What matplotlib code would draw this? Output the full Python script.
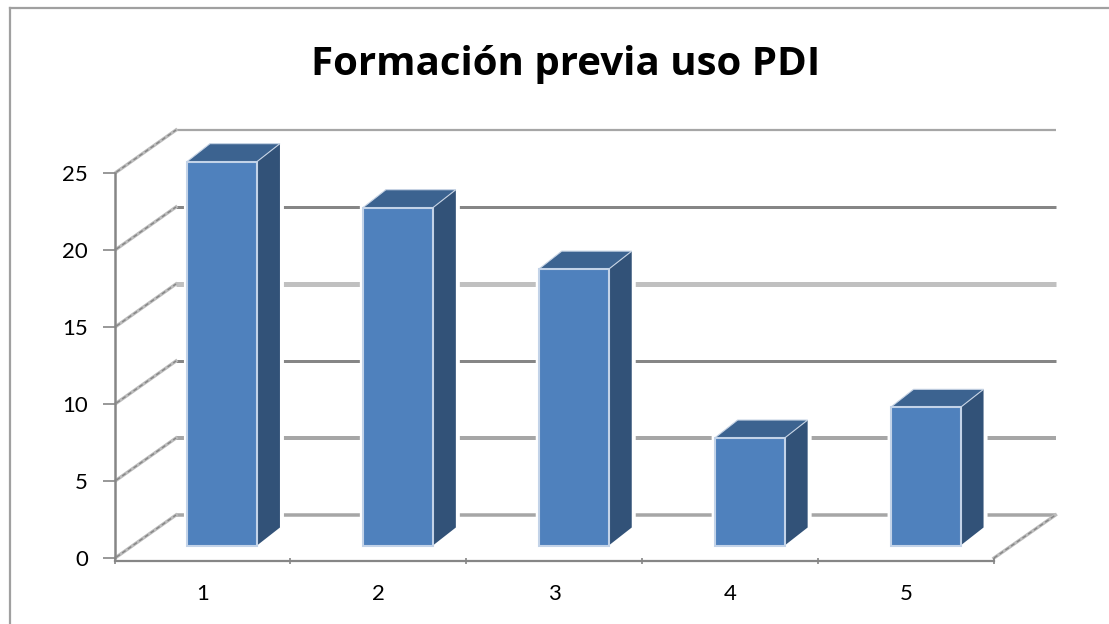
import matplotlib
matplotlib.use("Agg")
import matplotlib.pyplot as plt
from matplotlib.patches import Polygon

plt.rcParams["font.family"] = ["Lato", "DejaVu Sans"]

categories = [1, 2, 3, 4, 5]
values = [25, 22, 18, 7, 9]
y_ticks = [0, 5, 10, 15, 20, 25]
grid_colors = ["#a6a6a6", "#a6a6a6", "#868686", "#c0c0c0", "#868686", "#a6a6a6"]
grid_widths = [3.5, 4.0, 3.0, 5.0, 3.0, 2.2]

W, H = 1109, 624

fig = plt.figure(figsize=(W / 100, H / 100), dpi=100, facecolor="white")
# front plane of the fake 3D box, in pixels
left, right, y0, y25 = 114.5, 994, 558, 173
ax = fig.add_axes([left / W, 1 - y0 / H, (right - left) / W, (y0 - y25) / H])
ax.set_xlim(0.5, 5.5)
ax.set_ylim(0, 25)
ax.patch.set_alpha(0)

px_x = 5 / (right - left)
px_y = 25 / (y0 - y25)


def pt(x, y, dx=0, dy=0):
    # data point shifted by some pixels (dy up)
    return (x + dx * px_x, y + dy * px_y)


def slant(s, a):
    ax.plot([s[0], a[0]], [s[1], a[1]], color="#bcbcbc", lw=2.4, clip_on=False, zorder=1)
    ax.plot([s[0], a[0]], [s[1], a[1]], color="#868686", lw=1.0, clip_on=False,
            ls=(0, (3, 2)), zorder=1)


back_dx, back_dy = 61.5, 43

# gridlines on back wall and the slanted ones on the side wall
for t, c, w in zip(y_ticks, grid_colors, grid_widths):
    a = pt(0.5, t, back_dx, back_dy)
    b = pt(5.5, t, back_dx, back_dy)
    ax.plot([a[0], b[0]], [a[1], b[1]], color=c, lw=w * 0.72, clip_on=False,
            solid_capstyle="butt", zorder=1)
    slant(pt(0.5, t, 2, 1), a)

# floor edge on the right
slant(pt(5.5, 0), pt(5.5, 0, back_dx, back_dy))

# bars: front, top and side faces
bar_w = 70 * px_x
for c, v in zip(categories, values):
    h = v * 0.997
    x1 = c - bar_w / 2
    x2 = c + bar_w / 2
    off_x, off_y = 19.5, 12.5
    d_x, d_y = 23, 18
    bl = pt(x1, 0, off_x, off_y)
    br = pt(x2, 0, off_x, off_y)
    tl = pt(x1, h, off_x, off_y)
    tr = pt(x2, h, off_x, off_y)
    side = [br, tr, pt(x2, h, off_x + d_x, off_y + d_y), pt(x2, 0, off_x + d_x, off_y + d_y)]
    top = [tl, tr, pt(x2, h, off_x + d_x, off_y + d_y), pt(x1, h, off_x + d_x, off_y + d_y)]
    # white halo round the box, it hides the gridlines next to the bar
    halo = [pt(x1, 0, off_x - 3, off_y - 1), pt(x1, h, off_x - 3, off_y + 2),
            pt(x1, h, off_x + d_x, off_y + d_y + 3), pt(x2, h, off_x + d_x + 4, off_y + d_y + 3),
            pt(x2, 0, off_x + d_x + 4, off_y + d_y - 3), pt(x2, 0, off_x + 3, off_y - 1)]
    ax.add_patch(Polygon(halo, closed=True, fc="white", ec="none", zorder=2, clip_on=False))
    ax.add_patch(Polygon(side, closed=True, fc="#325278", ec="none", zorder=3, clip_on=False))
    ax.add_patch(Polygon(top, closed=True, fc="#3c6390", ec="#c6d3e4", lw=0.8, zorder=3,
                         clip_on=False))
    ax.add_patch(Polygon([bl, tl, tr, br], closed=True, fc="#4f81bd", ec="#c3d3e8", lw=1.5,
                         zorder=4, clip_on=False, joinstyle="miter"))

# axes lines
for sp in ["top", "right"]:
    ax.spines[sp].set_visible(False)
ax.spines["left"].set_color("#868686")
ax.spines["left"].set_linewidth(1.8)
ax.spines["bottom"].set_color("#868686")
ax.spines["bottom"].set_linewidth(1.6)
ax.spines["bottom"].set_position(("outward", 2.5))

ax.set_xticks([0.5, 1.5, 2.5, 3.5, 4.5, 5.5])
ax.set_xticklabels([])
ax.set_xticks(categories, minor=True)
ax.set_xticklabels([str(c) for c in categories], minor=True, fontsize=16, color="black")
ax.tick_params(axis="x", which="major", length=5, width=1.2, color="#868686", direction="inout")
ax.tick_params(axis="x", which="minor", length=0, pad=16)
ax.set_yticks(y_ticks)
ax.set_yticklabels([str(t) for t in y_ticks], fontsize=16, color="black")
ax.tick_params(axis="y", length=9, width=1.2, color="#868686", pad=10)

# title and chart frame
fig.text(565.5 / W, 1 - 64 / H, "Formación previa uso PDI", ha="center", va="center",
         fontsize=29, fontweight="bold", color="black", family=["Open Sans", "DejaVu Sans"])
fig.add_artist(plt.Line2D([10 / W, 10 / W], [0, 1 - 8 / H], color="#a0a0a0", lw=1.6))
fig.add_artist(plt.Line2D([10 / W, 1], [1 - 8 / H, 1 - 8 / H], color="#a0a0a0", lw=1.6))

fig.savefig("out.png", dpi=100)
